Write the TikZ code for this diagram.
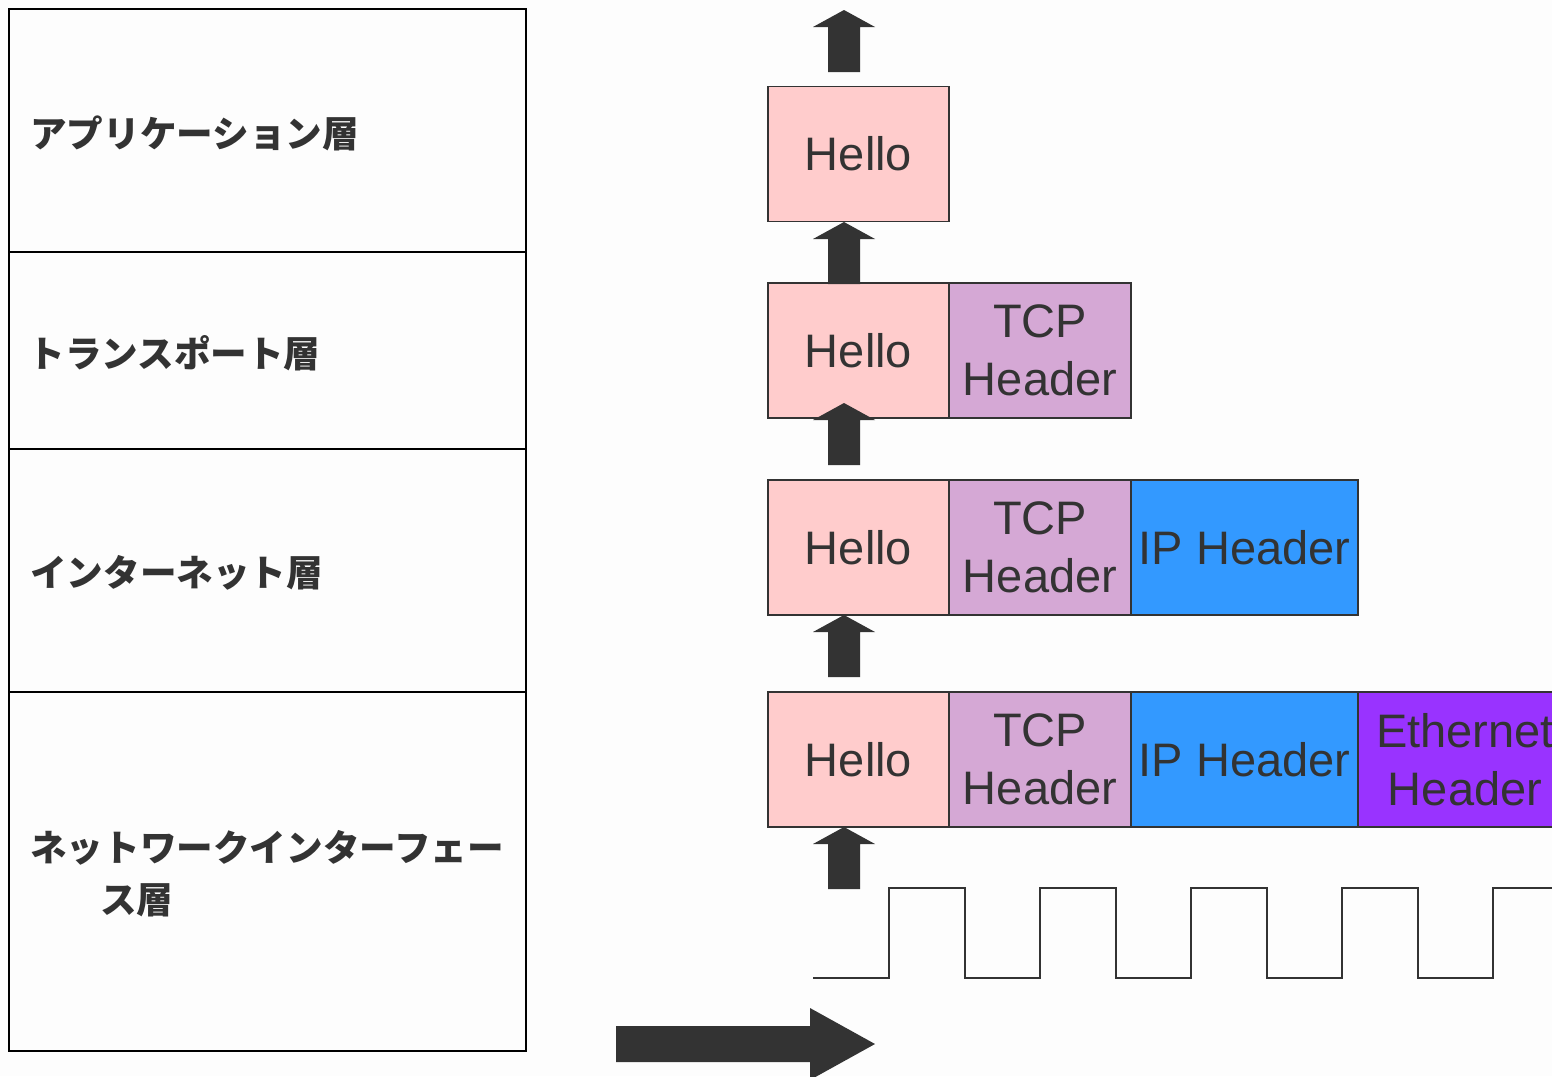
\documentclass[tikz,border=0pt]{standalone}
\usepackage{fontspec}
\setmainfont{Liberation Sans}
\newfontfamily\jpfont{Noto Sans CJK JP}
\definecolor{ink}{HTML}{333333}
\definecolor{paper}{HTML}{FDFDFD}
\definecolor{dataclr}{HTML}{FFCCCC}
\definecolor{tcpclr}{HTML}{D5A8D5}
\definecolor{ipclr}{HTML}{3399FF}
\definecolor{ethclr}{HTML}{9933FF}
\begin{document}
\begin{tikzpicture}[x=0.5pt,y=-0.5pt,
  layerbox/.style={draw=black,line width=1pt,minimum width=258.5pt,inner sep=0pt},
  layertext/.style={anchor=west,inner sep=0pt,text=ink,align=left,
    font=\jpfont\bfseries\fontsize{18.3}{26}\selectfont},
  cell/.style={draw=ink,line width=0.75pt,minimum height=67.5pt,inner sep=0pt,
    text=ink,align=center,font=\fontsize{23.5}{29}\selectfont},
  hello/.style={cell,fill=dataclr,minimum width=90.5pt},
  tcp/.style={cell,fill=tcpclr,minimum width=91pt},
  ip/.style={cell,fill=ipclr,minimum width=113.5pt},
  eth/.style={cell,fill=ethclr,minimum width=107pt},
  wave/.style={draw=ink,line width=1pt},
  uparrow/.pic={\fill[ink] (0,0) -- (31,17) -- (16,17) -- (16,62) -- (-16,62) -- (-16,17) -- (-31,17) -- cycle;}
]
\useasboundingbox (0,0) rectangle (1552,1076);
\clip (0,0) rectangle (1552,1076);
\fill[paper] (0,0) rectangle (1552,1076);

% protocol layers
\node[layerbox,minimum height=121.5pt] (app) at (267.5,130.5) {};
\node[layerbox,minimum height=98.5pt] (trn) at (267.5,350.5) {};
\node[layerbox,minimum height=121.5pt] (net) at (267.5,570.5) {};
\node[layerbox,minimum height=179.5pt] (nif) at (267.5,871.5) {};
\node[layertext] (appl) at (30,133) {アプリケーション層};
\node[layertext] (trnl) at (28,353) {トランスポート層};
\node[layertext] (netl) at (30,573) {インターネット層};
\node[layertext] (nifl) at (30,874) {ネットワークインターフェー\\\hspace*{35pt}ス層};

% packets, one row per layer
\node[hello] (h1) at (858.5,154) {Hello};

\node[hello] (h2) at (858.5,350.5) {Hello};
\node[tcp] (t2) at (1040,350.5) {TCP\\Header};

\node[hello] (h3) at (858.5,547.5) {Hello};
\node[tcp] (t3) at (1040,547.5) {TCP\\Header};
\node[ip] (i3) at (1244.5,547.5) {IP Header};

\node[hello] (h4) at (858.5,759.5) {Hello};
\node[tcp] (t4) at (1040,759.5) {TCP\\Header};
\node[ip] (i4) at (1244.5,759.5) {IP Header};
\node[eth] (e4) at (1465,759.5) {Ethernet\\Header};

% upward block arrows
\pic at (844,10) {uparrow};
\pic at (844,222) {uparrow};
\pic at (844,403) {uparrow};
\pic at (844,615) {uparrow};
\pic at (844,827) {uparrow};

% physical signal
\draw[wave] (813,978)
  \foreach \x in {889,1040,1191,1342,1493} {
    -- (\x,978) -- (\x,888) -- (\x+76,888) -- (\x+76,978)
  } -- (1600,978);

% time direction
\fill[ink] (616,1026) -- (810,1026) -- (810,1008) -- (875,1044)
  -- (810,1080) -- (810,1062) -- (616,1062) -- cycle;
\end{tikzpicture}
\end{document}
